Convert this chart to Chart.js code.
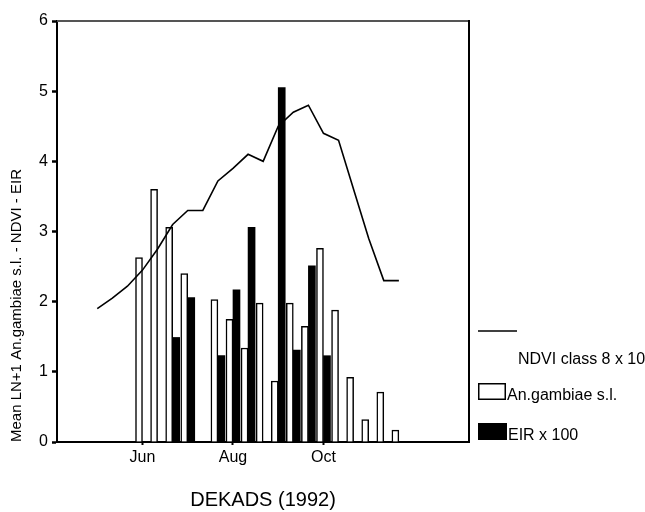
<!DOCTYPE html>
<html>
<head>
<meta charset="utf-8">
<script src="https://cdn.jsdelivr.net/npm/chart.js@4/dist/chart.umd.min.js"></script>
<style>
  html, body { margin: 0; padding: 0; background: #ffffff; }
  #wrap { width: 645px; height: 512px; }
</style>
</head>
<body>
<div id="wrap"><canvas id="c" width="645" height="512"></canvas></div>
<script>
// Dekads of the year 1992 (dekad 16 = 1st dekad of June)
const dekads = [13, 14, 15, 16, 17, 18, 19, 20, 21, 22, 23, 24, 25, 26, 27, 28, 29, 30, 31, 32, 33];
// NDVI class 8 x 10
const ndvi = [1.9, 2.05, 2.22, 2.45, 2.75, 3.1, 3.3, 3.3, 3.72, 3.9, 4.1, 4.0, 4.5, 4.7, 4.8, 4.4, 4.3, 3.6, 2.9, 2.3, 2.3];
// Mean LN+1 An.gambiae s.l.
const anGambiae = [null, null, null, 2.63, 3.60, 3.06, 2.40, null, 2.03, 1.75, 1.34, 1.98, 0.87, 1.98, 1.65, 2.76, 1.88, 0.92, 0.32, 0.71, 0.17];
// EIR x 100
const eir = [null, null, null, null, null, 1.49, 2.06, null, 1.23, 2.17, 3.06, null, 5.05, 1.31, 2.51, 1.23, null, null, null, null, null];
// Tick labels on the dekad axis
const tickDekads = [16, 22, 28];
const tickLabels = ['Jun', 'Aug', 'Oct'];
const legendLabels = ['NDVI class 8 x 10', 'An.gambiae s.l.', 'EIR x 100'];

const FONT = "'Liberation Sans', Arial, Helvetica, sans-serif";

function pts(values) {
  const out = [];
  dekads.forEach((d, i) => { if (values[i] !== null) out.push({ x: d, y: values[i] }); });
  return out;
}

const framePlugin = {
  id: 'frame',
  afterDraw(chart) {
    const ctx = chart.ctx;
    const a = chart.chartArea;
    ctx.save();
    // top and right frame lines
    ctx.lineWidth = 2;
    ctx.strokeStyle = '#555555';
    ctx.beginPath();
    ctx.moveTo(a.left, a.top);
    ctx.lineTo(a.right, a.top);
    ctx.stroke();
    ctx.strokeStyle = '#000000';
    ctx.beginPath();
    ctx.moveTo(a.right, a.top - 1);
    ctx.lineTo(a.right, a.bottom);
    ctx.stroke();

    // custom legend on the right
    const lx = a.right + 9;
    ctx.lineWidth = 1.5;
    ctx.strokeStyle = '#000';
    ctx.beginPath();
    ctx.moveTo(lx, 331);
    ctx.lineTo(lx + 39, 331);
    ctx.stroke();

    ctx.fillStyle = '#000';
    ctx.font = '16px ' + FONT;
    ctx.textBaseline = 'middle';
    ctx.textAlign = 'left';
    ctx.fillText(legendLabels[0], lx + 40, 360);

    ctx.fillStyle = '#fff';
    ctx.fillRect(lx, 383, 27, 17);
    ctx.lineWidth = 1.5;
    ctx.strokeRect(lx + 0.75, 383.75, 26.5, 15.5);
    ctx.fillStyle = '#000';
    ctx.fillText(legendLabels[1], lx + 29, 396);

    ctx.fillRect(lx, 423, 29, 17);
    ctx.fillText(legendLabels[2], lx + 30, 436);
    ctx.restore();
  }
};

new Chart(document.getElementById('c'), {
  type: 'bar',
  data: {
    datasets: [
      {
        type: 'line',
        label: legendLabels[0],
        data: pts(ndvi),
        borderColor: '#000',
        borderWidth: 1.6,
        pointRadius: 0,
        tension: 0,
        fill: false
      },
      {
        label: legendLabels[1],
        data: pts(anGambiae),
        backgroundColor: '#ffffff',
        borderColor: '#000000',
        borderWidth: 1.5,
        barThickness: 7
      },
      {
        label: legendLabels[2],
        data: pts(eir),
        backgroundColor: '#000000',
        borderColor: '#000000',
        borderWidth: 0,
        barThickness: 7
      }
    ]
  },
  options: {
    responsive: false,
    animation: false,
    devicePixelRatio: 1,
    layout: { padding: { top: 21, right: 176, left: 0, bottom: 0 } },
    plugins: { legend: { display: false }, tooltip: { enabled: false } },
    scales: {
      x: {
        type: 'linear',
        offset: false,
        min: 10.33,
        max: 37.65,
        afterBuildTicks(scale) { scale.ticks = tickDekads.map(v => ({ value: v })); },
        afterFit(scale) { scale.height = 70; },
        ticks: {
          color: '#000',
          font: { family: FONT, size: 16 },
          padding: 3,
          maxRotation: 0,
          autoSkip: false,
          callback(v) { const k = tickDekads.indexOf(v); return k >= 0 ? tickLabels[k] : ''; }
        },
        grid: { offset: false, drawOnChartArea: false, drawTicks: true, tickLength: 3, tickColor: '#000', tickWidth: 2 },
        border: { display: true, color: '#000', width: 2 },
        title: {
          display: true,
          text: 'DEKADS (1992)',
          color: '#000',
          font: { family: FONT, size: 20 },
          padding: { top: 0, bottom: 0 }
        }
      },
      y: {
        min: 0,
        max: 6,
        afterFit(scale) { scale.width = 57; },
        ticks: {
          stepSize: 1,
          color: '#000',
          font: { family: FONT, size: 16 },
          padding: 4
        },
        grid: { drawOnChartArea: false, drawTicks: true, tickLength: 5, tickColor: '#000', tickWidth: 2.5 },
        border: { display: true, color: '#000', width: 2 },
        title: {
          display: true,
          text: 'Mean LN+1 An.gambiae s.l. - NDVI - EIR',
          align: 'start',
          color: '#000',
          font: { family: FONT, size: 15 },
          padding: { top: 8, bottom: 0 }
        }
      }
    }
  },
  plugins: [framePlugin]
});
</script>
</body>
</html>
